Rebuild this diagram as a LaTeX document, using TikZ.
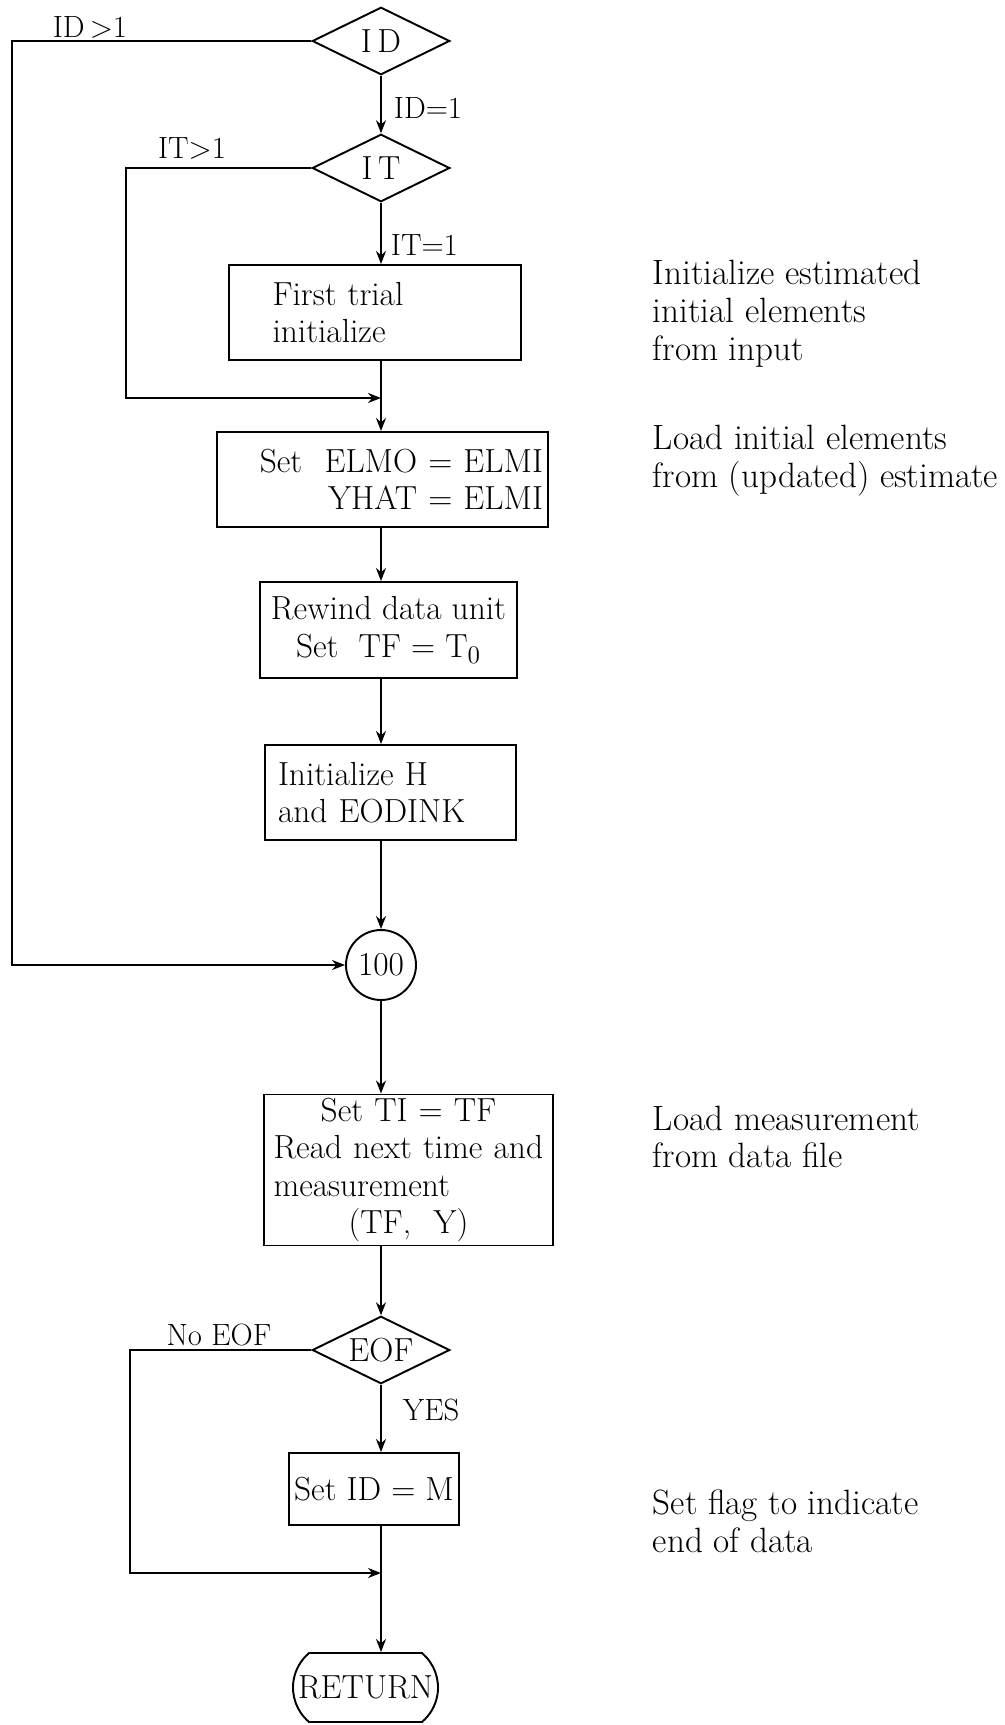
\documentclass[tikz,border=0pt]{standalone}
\usetikzlibrary{arrows.meta,shapes.geometric,shapes.misc}
\begin{document}
\begin{tikzpicture}[>={Stealth[length=2.6mm,width=2mm]},line width=1.1pt,
  every node/.style={font=\fontsize{19}{21.3}\selectfont},
  procbox/.style={draw,rectangle,inner ysep=2pt},
  testnode/.style={draw,diamond,aspect=2,inner sep=0pt,minimum width=2.75cm,minimum height=1.35cm},
  note/.style={anchor=west,align=left,inner sep=0pt,font=\fontsize{20}{21.5}\selectfont},
  lbl/.style={inner sep=0pt,font=\fontsize{17.5}{21}\selectfont}]
\useasboundingbox (0,0) rectangle (20.08,-34.5);
\coordinate (col) at (7.62,0);
\node[testnode] (id) at (7.62,-0.82) {I\,D};
\node[testnode] (it) at (7.62,-3.36) {I\,T};
\node[procbox,minimum width=5.84cm,minimum height=1.9cm,text width=4.1cm,align=left] (first) at (7.5,-6.25) {First trial\\initialize};
\node[procbox,text width=6.42cm,inner xsep=0.1cm,minimum height=1.9cm,align=right] (elmo) at (7.65,-9.59) {Set\ \ ELMO = ELMI\\YHAT = ELMI};
\node[procbox,minimum width=5.14cm,minimum height=1.92cm,inner xsep=0.05cm,align=center] (rewind) at (7.77,-12.6) {Rewind data unit\\Set\ \ TF = T$_0$};
\node[procbox,text width=4.5cm,inner xsep=0.26cm,minimum height=1.9cm,align=left] (inith) at (7.81,-15.85) {Initialize H\\and EODINK};
\node[draw,circle,minimum size=1.4cm,inner sep=0pt] (c100) at (7.62,-19.3) {100};
\node[procbox,text width=5.4cm,inner xsep=0.19cm,minimum height=2.92cm,align=left] (ti) at (8.17,-23.4) {\makebox[5.4cm]{Set TI = TF}\\Read next time and\\measurement\\\makebox[5.4cm]{(TF,\ \ Y)}};
\node[testnode] (eof) at (7.62,-27.0) {EOF};
\node[procbox,minimum width=3.4cm,minimum height=1.44cm,inner xsep=0.05cm] (setid) at (7.48,-29.78) {Set ID = M};
\node[draw,rounded rectangle,rounded rectangle arc length=100,minimum width=2.9cm,minimum height=1.38cm,inner xsep=0pt] (ret) at (7.31,-33.75) {RETURN};
\coordinate (m1) at (7.62,-7.96);
\coordinate (m2) at (7.62,-31.46);
\coordinate (lid) at (0.24,-19.3);
\coordinate (lit) at (2.52,-7.96);
\coordinate (leof) at (2.6,-31.46);
\node[lbl] (lidgt) at (1.8,-0.54) {ID\,$>$1};
\node[lbl,anchor=west] (lideq) at (7.86,-2.16) {ID=1};
\node[lbl] (litgt) at (3.84,-2.96) {IT$>$1};
\node[lbl,anchor=west] (liteq) at (7.8,-4.9) {IT=1};
\node[lbl] (lnoeof) at (4.38,-26.7) {No EOF};
\node[lbl,anchor=west] (lyes) at (8.04,-28.2) {YES};
\node[note] (n1) at (13.04,-6.28) {Initialize estimated\\initial elements\\from input};
\node[note] (n2) at (13.04,-9.22) {Load initial elements\\from (updated) estimate};
\node[note] (n3) at (13.04,-22.74) {Load measurement\\from data file};
\node[note] (n4) at (13.04,-30.42) {Set flag to indicate\\end of data};
\draw[->] (id.south) -- (it.north);
\draw[->] (id.west) -| (lid) -- (c100.west);
\draw[->] (it.south) -- (first.north -| col);
\draw[->] (it.west) -| (lit) -- (m1);
\draw (first.south -| col) -- (m1);
\draw[->] (m1) -- (elmo.north -| col);
\draw[->] (elmo.south -| col) -- (rewind.north -| col);
\draw[->] (rewind.south -| col) -- (inith.north -| col);
\draw[->] (inith.south -| col) -- (c100.north);
\draw[->] (c100.south) -- (ti.north -| col);
\draw[->] (ti.south -| col) -- (eof.north);
\draw[->] (eof.south) -- (setid.north -| col);
\draw[->] (eof.west) -| (leof) -- (m2);
\draw (setid.south -| col) -- (m2);
\draw[->] (m2) -- (m2 |- ret.north);
\end{tikzpicture}
\end{document}
